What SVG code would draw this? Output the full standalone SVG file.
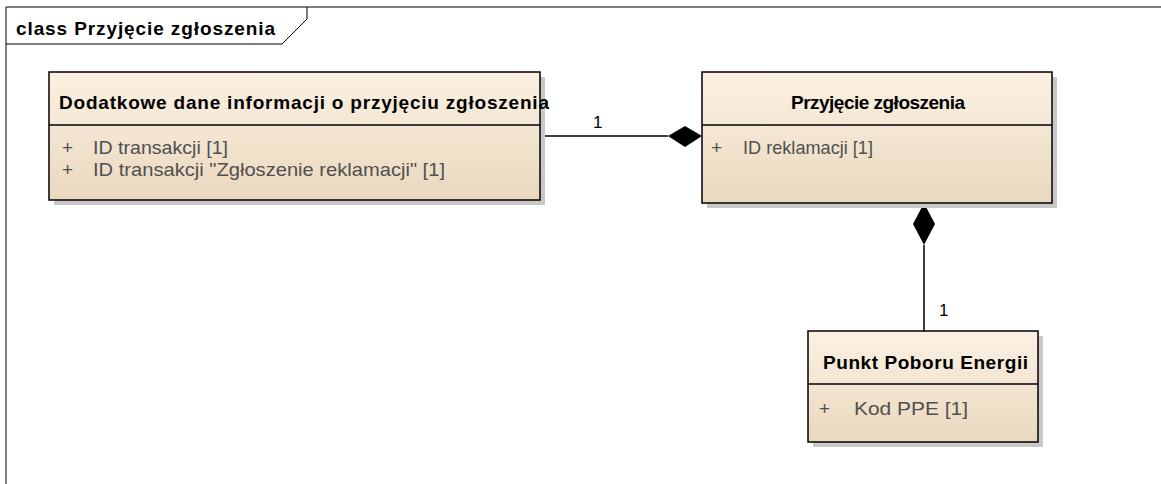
<svg xmlns="http://www.w3.org/2000/svg" width="1161" height="484" viewBox="0 0 1161 484">
<defs>
<linearGradient id="g" x1="0" y1="0" x2="0" y2="1">
<stop offset="0" stop-color="#FBF1E3"/>
<stop offset="1" stop-color="#EAD8BE"/>
</linearGradient>
<style>
.box{fill:url(#g);stroke:#000;stroke-width:1.5}
.sh{fill:#C8C8C8}
.div{stroke:#000;stroke-width:1.5}
.t{font-family:"Liberation Sans",Arial,sans-serif;font-size:19px;font-weight:bold;fill:#000}
.a{font-family:"Liberation Sans",Arial,sans-serif;font-size:19px;fill:#505050}
.m{font-family:"Liberation Sans",Arial,sans-serif;font-size:17px;fill:#000}
.ln{stroke:#000;stroke-width:1.5;fill:none}
</style>
</defs>
<rect width="1161" height="484" fill="#fff"/>
<g id="frame">
<path d="M6,484 V7 H1161" fill="none" stroke="#000" stroke-width="1"/>
<path d="M6,44 H282 L307,19 V7" fill="none" stroke="#000" stroke-width="1"/>
<text x="16" y="35" class="t" textLength="259" lengthAdjust="spacing">class Przyjęcie zgłoszenia</text>
</g>
<g id="connectors">
<line x1="540" y1="136" x2="668" y2="136" class="ln"/>
<polygon points="702,136 685,126 668,136 685,147" fill="#000"/>
<line x1="924" y1="245" x2="924" y2="331" class="ln"/>
<polygon points="924,203 935,224 924,245 913,224" fill="#000"/>
<text x="593" y="128" class="m">1</text>
<text x="939" y="316" class="m">1</text>
</g>
<g id="dodatkowe">
<rect x="54" y="77" width="491" height="128" class="sh"/>
<rect x="49" y="72" width="491" height="128" class="box"/>
<line x1="49" y1="125" x2="540" y2="125" class="div"/>
<text x="59" y="109" class="t" textLength="490" lengthAdjust="spacing">Dodatkowe dane informacji o przyjęciu zgłoszenia</text>
<text x="62" y="154" class="a">+</text>
<text x="93" y="154" class="a" textLength="135" lengthAdjust="spacingAndGlyphs">ID transakcji [1]</text>
<text x="62" y="176" class="a">+</text>
<text x="93" y="176" class="a" textLength="352" lengthAdjust="spacingAndGlyphs">ID transakcji "Zgłoszenie reklamacji" [1]</text>
</g>
<g id="przyjecie">
<rect x="707" y="77" width="350" height="131" class="sh"/>
<rect x="702" y="72" width="350" height="131" class="box"/>
<line x1="702" y1="125" x2="1052" y2="125" class="div"/>
<text x="791" y="109" class="t" textLength="174" lengthAdjust="spacing">Przyjęcie zgłoszenia</text>
<text x="711" y="154" class="a">+</text>
<text x="743" y="154" class="a" textLength="130" lengthAdjust="spacingAndGlyphs">ID reklamacji [1]</text>
</g>
<g id="punkt">
<rect x="813" y="336" width="230" height="111" class="sh"/>
<rect x="808" y="331" width="230" height="111" class="box"/>
<line x1="808" y1="384" x2="1038" y2="384" class="div"/>
<text x="823" y="369" class="t" textLength="205" lengthAdjust="spacing">Punkt Poboru Energii</text>
<text x="819" y="415" class="a">+</text>
<text x="854" y="415" class="a" textLength="114" lengthAdjust="spacingAndGlyphs">Kod PPE [1]</text>
</g>
</svg>
